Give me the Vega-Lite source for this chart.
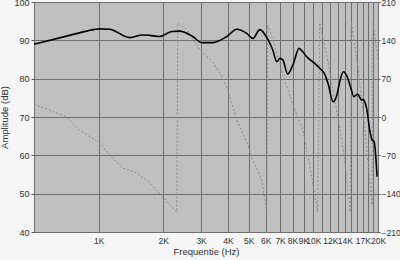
{
  "$schema": "https://vega.github.io/schema/vega-lite/v6.json",
  "width": 344,
  "height": 230,
  "autosize": {"type": "none"},
  "padding": {"left": 34, "top": 2, "right": 22, "bottom": 28},
  "background": "#f6f6f6",
  "config": {
    "view": {"fill": "#c0c0c0", "stroke": "#707070", "strokeWidth": 1},
    "font": "Liberation Sans",
    "axis": {"labelFont": "Liberation Sans", "titleFont": "Liberation Sans", "labelFontSize": 9, "titleFontSize": 9.5, "titleFontWeight": "normal", "labelColor": "#333333", "titleColor": "#333333", "domain": false, "gridColor": "#6e6e6e", "gridOpacity": 1, "gridWidth": 1, "tickColor": "#555555"}
  },
  "datasets": {
    "amp": [
      {"f": 500, "db": 89.0}, {"f": 709, "db": 91.1}, {"f": 879, "db": 92.4}, {"f": 1011, "db": 93.0}, {"f": 1125, "db": 92.9},
      {"f": 1395, "db": 90.7}, {"f": 1604, "db": 91.4}, {"f": 1729, "db": 91.3}, {"f": 1925, "db": 91.0}, {"f": 2190, "db": 92.3},
      {"f": 2384, "db": 92.4}, {"f": 2744, "db": 91.0}, {"f": 3022, "db": 89.4}, {"f": 3401, "db": 89.4}, {"f": 3955, "db": 91.0},
      {"f": 4396, "db": 92.9}, {"f": 4897, "db": 91.8}, {"f": 5225, "db": 90.5}, {"f": 5630, "db": 92.8}, {"f": 6130, "db": 90.3},
      {"f": 6470, "db": 87.5}, {"f": 6760, "db": 84.4}, {"f": 6980, "db": 85.3}, {"f": 7210, "db": 84.9}, {"f": 7590, "db": 81.2},
      {"f": 8030, "db": 83.6}, {"f": 8580, "db": 87.9}, {"f": 8930, "db": 87.0}, {"f": 9310, "db": 85.7}, {"f": 10150, "db": 84.0},
      {"f": 10720, "db": 82.7}, {"f": 11330, "db": 81.0}, {"f": 11700, "db": 78.8}, {"f": 12350, "db": 74.0}, {"f": 12860, "db": 75.7},
      {"f": 13270, "db": 79.2}, {"f": 13800, "db": 81.8}, {"f": 14370, "db": 80.5}, {"f": 14960, "db": 77.5}, {"f": 15430, "db": 75.3},
      {"f": 16090, "db": 76.0}, {"f": 16780, "db": 74.4}, {"f": 16960, "db": 74.6}, {"f": 17700, "db": 72.3}, {"f": 18300, "db": 66.6},
      {"f": 18760, "db": 64.0}, {"f": 19170, "db": 63.6}, {"f": 19810, "db": 54.4}
    ],
    "phase": [
      {"f": 500, "p": 23.7}, {"f": 709, "p": 0}, {"f": 815, "p": -23.7}, {"f": 1011, "p": -47.5}, {"f": 1125, "p": -69.4},
      {"f": 1294, "p": -93.2}, {"f": 1504, "p": -102}, {"f": 1729, "p": -120.5}, {"f": 1988, "p": -146}, {"f": 2311, "p": -173.5},
      {"f": 2336, "p": 171.7}, {"f": 2573, "p": 158.9}, {"f": 2958, "p": 122.4}, {"f": 3401, "p": 100.4}, {"f": 3787, "p": 71.2},
      {"f": 3996, "p": 49.3}, {"f": 4396, "p": -5.5}, {"f": 4897, "p": -45.6}, {"f": 5225, "p": -78.5}, {"f": 5750, "p": -115},
      {"f": 6000, "p": -160.7}, {"f": 6065, "p": -173.5}, {"f": 6130, "p": 168}, {"f": 6610, "p": 131.5}, {"f": 7210, "p": 76.7},
      {"f": 8030, "p": 22}, {"f": 8930, "p": -23.7}, {"f": 9610, "p": -87.6}, {"f": 10470, "p": -173.5}, {"f": 10700, "p": 171.7},
      {"f": 11660, "p": 104}, {"f": 12820, "p": 12.8}, {"f": 13800, "p": -60}, {"f": 14880, "p": -173.5}, {"f": 15040, "p": 171.7},
      {"f": 16190, "p": 85.8}, {"f": 17400, "p": -23.7}, {"f": 18760, "p": -160.7}, {"f": 18960, "p": 171.7}, {"f": 20000, "p": 104}
    ]
  },
  "layer": [
    {
      "data": {"name": "phase"},
      "mark": {"type": "line", "color": "#8c8c8c", "strokeWidth": 1, "strokeDash": [2, 2], "clip": true},
      "encoding": {
        "x": {"field": "f", "type": "quantitative", "scale": {"type": "log", "domain": [500, 20000], "nice": false},
          "axis": {"title": "Frequentie (Hz)", "titlePadding": 2, "values": [1000,2000,3000,4000,5000,6000,7000,8000,9000,10000,11000,12000,13000,14000,15000,16000,17000,18000,19000,20000],
            "labelExpr": "indexof([11000,13000,15000,16000,18000,19000], datum.value) >= 0 ? '' : (datum.value/1000) + 'K'",
            "ticks": false, "labelPadding": 4, "labelFontSize": 8.5, "labelOverlap": false, "labelBound": false, "labelFlush": false, "grid": true}},
        "y": {"field": "p", "type": "quantitative", "scale": {"domain": [-210, 210], "nice": false},
          "axis": {"orient": "right", "title": null, "values": [-210, -140, -70, 0, 70, 140, 210], "grid": false, "tickSize": 2, "labelPadding": 1, "labelFontSize": 8.5, "labelFlush": false}}
      }
    },
    {
      "data": {"name": "amp"},
      "mark": {"type": "line", "color": "#000000", "strokeWidth": 1.6, "interpolate": "monotone", "clip": true},
      "encoding": {
        "x": {"field": "f", "type": "quantitative", "scale": {"type": "log", "domain": [500, 20000], "nice": false}},
        "y": {"field": "db", "type": "quantitative", "scale": {"domain": [40, 100], "nice": false},
          "axis": {"orient": "left", "title": "Amplitude (dB)", "values": [40, 50, 60, 70, 80, 90, 100], "grid": true, "tickSize": 3, "labelPadding": 2, "titlePadding": 4, "labelFlush": false}}
      }
    }
  ],
  "resolve": {"scale": {"y": "independent"}}
}
